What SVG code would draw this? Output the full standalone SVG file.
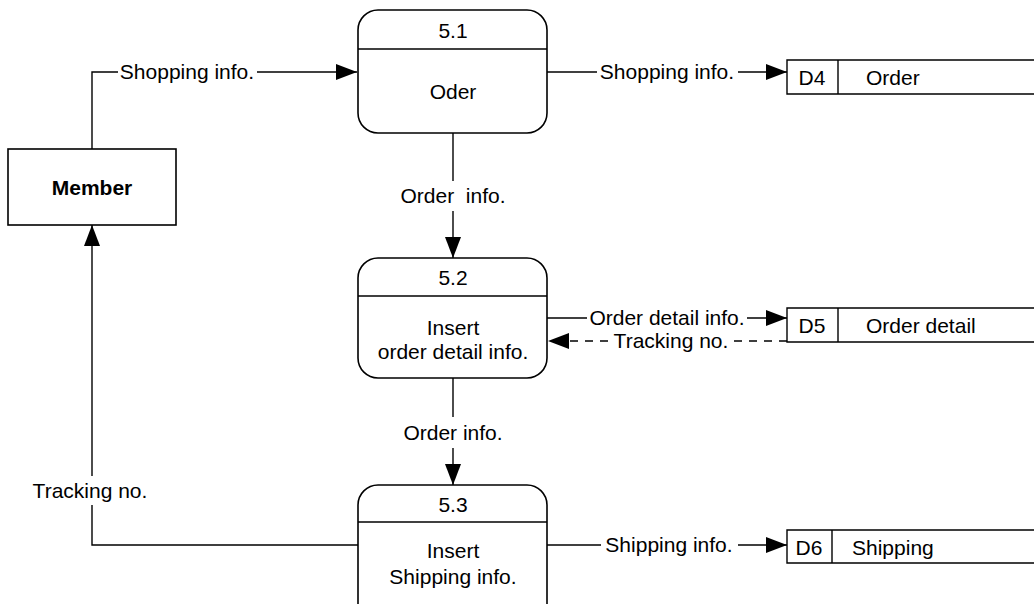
<svg xmlns="http://www.w3.org/2000/svg" width="1034" height="604" viewBox="0 0 1034 604">
<style>
text{font-family:"Liberation Sans",Arial,sans-serif;font-size:21px;fill:#000}
.c{text-anchor:middle}
.b{font-weight:bold}
.box{fill:#fff;stroke:#000;stroke-width:1.6}
.ln{fill:none;stroke:#000;stroke-width:1.4}
.dash{stroke-dasharray:8,7}
</style>
<defs>
<marker id="ah" markerUnits="userSpaceOnUse" markerWidth="22" markerHeight="16" refX="21" refY="8" orient="auto">
<path d="M0,0 L21,8 L0,16 Z" fill="#000"/>
</marker>
</defs>
<rect width="1034" height="604" fill="#fff"/>
<g id="connectors">
<path class="ln" d="M92,149 V72 H118"/>
<path class="ln" d="M257,72 H357" marker-end="url(#ah)"/>
<path class="ln" d="M547,72 H597"/>
<path class="ln" d="M738,72 H787" marker-end="url(#ah)"/>
<path class="ln" d="M453,133 V181"/>
<path class="ln" d="M453,211 V258" marker-end="url(#ah)"/>
<path class="ln" d="M547,318 H587"/>
<path class="ln" d="M747,318 H787" marker-end="url(#ah)"/>
<path class="ln dash" d="M787,341 H734"/>
<path class="ln dash" d="M608,341 H548" marker-end="url(#ah)"/>
<path class="ln" d="M453,378 V417"/>
<path class="ln" d="M453,448 V485" marker-end="url(#ah)"/>
<path class="ln" d="M358,545 H92 V505"/>
<path class="ln" d="M92,476 V225" marker-end="url(#ah)"/>
<path class="ln" d="M547,545 H601"/>
<path class="ln" d="M738,545 H787" marker-end="url(#ah)"/>
<text x="187" y="79" class="c">Shopping info.</text>
<text x="667" y="79" class="c">Shopping info.</text>
<text x="453" y="203" class="c" xml:space="preserve">Order  info.</text>
<text x="667" y="325" class="c">Order detail info.</text>
<text x="671" y="348" class="c">Tracking no.</text>
<text x="453" y="440" class="c">Order info.</text>
<text x="90" y="498" class="c">Tracking no.</text>
<text x="669" y="552" class="c">Shipping info.</text>
</g>
<g id="member">
<rect class="box" x="8" y="149" width="168" height="76"/>
<text x="92" y="195" class="c b">Member</text>
</g>
<g id="p51">
<rect class="box" x="358" y="10" width="189" height="123" rx="20"/>
<line class="ln" x1="358" y1="49" x2="547" y2="49"/>
<text x="453" y="38" class="c">5.1</text>
<text x="453" y="99" class="c">Oder</text>
</g>
<g id="p52">
<rect class="box" x="358" y="258" width="189" height="120" rx="20"/>
<line class="ln" x1="358" y1="296" x2="547" y2="296"/>
<text x="453" y="285" class="c">5.2</text>
<text x="453" y="335" class="c">Insert</text>
<text x="453" y="359" class="c">order detail info.</text>
</g>
<g id="p53">
<rect class="box" x="358" y="485" width="189" height="140" rx="20"/>
<line class="ln" x1="358" y1="522" x2="547" y2="522"/>
<text x="453" y="512" class="c">5.3</text>
<text x="453" y="558" class="c">Insert</text>
<text x="453" y="584" class="c">Shipping info.</text>
</g>
<g id="d4">
<path class="ln" d="M1034,60 H787 V94 H1034 M838,60 V94"/>
<text x="812" y="85" class="c">D4</text>
<text x="866" y="85">Order</text>
</g>
<g id="d5">
<path class="ln" d="M1034,308 H787 V342 H1034 M838,308 V342"/>
<text x="812" y="333" class="c">D5</text>
<text x="866" y="333">Order detail</text>
</g>
<g id="d6">
<path class="ln" d="M1034,530 H787 V563 H1034 M832,530 V563"/>
<text x="809" y="555" class="c">D6</text>
<text x="852" y="555">Shipping</text>
</g>
</svg>
